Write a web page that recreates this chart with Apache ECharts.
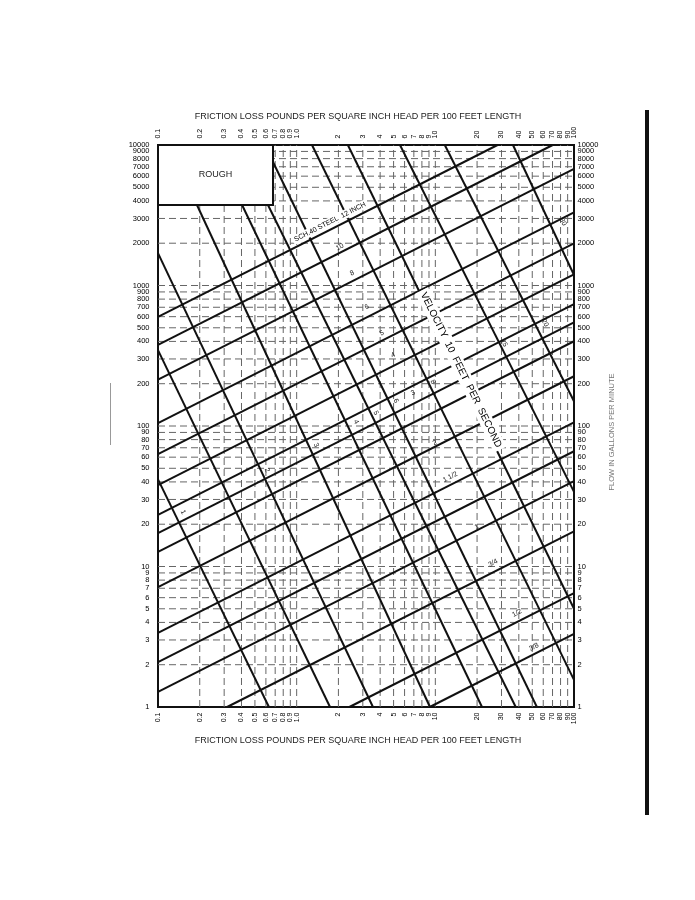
<!DOCTYPE html>
<html><head><meta charset="utf-8">
<script src="https://cdn.jsdelivr.net/npm/echarts@6/dist/echarts.min.js"></script>
<style>html,body{margin:0;padding:0;background:#fff}#c{width:695px;height:900px}</style>
</head><body><div id="c"></div>
<script>
// ---------- data ----------
const frictionTicks = [0.1,0.2,0.3,0.4,0.5,0.6,0.7,0.8,0.9,1,2,3,4,5,6,7,8,9,10,20,30,40,50,60,70,80,90,100];
const frictionTickLabels = ['0.1','0.2','0.3','0.4','0.5','0.6','0.7','0.8','0.9','1.0','2','3','4','5','6','7','8','9','10','20','30','40','50','60','70','80','90','100'];
const flowTicks = [1,2,3,4,5,6,7,8,9,10,20,30,40,50,60,70,80,90,100,200,300,400,500,600,700,800,900,1000,2000,3000,4000,5000,6000,7000,8000,9000,10000];
const flowTickLabels = ['1','2','3','4','5','6','7','8','9','10','20','30','40','50','60','70','80','90','100','200','300','400','500','600','700','800','900','1000','2000','3000','4000','5000','6000','7000','8000','9000','10000'];

// pipe diameter lines (inches): start / end points [friction psi per 100 ft, flow gpm]
const pipeSizes = ['12','10','8','6','5','4','3 1/2','3','2 1/2','2','1 1/2','1 1/4','1','3/4','1/2','3/8'];
const pipeFrom = [[0.1,597],[0.1,378],[0.1,214],[0.1,105],[0.1,63.1],[0.1,38.0],[0.1,23.3],[0.1,17.3],[0.1,12.7],[0.1,7.14],[0.1,3.37],[0.1,2.09],[0.1,1.28],[0.315,1],[2.40,1],[9.12,1]];
const pipeTo = [[28.1,10000],[70.2,10000],[100,6761],[100,3319],[100,1995],[100,1202],[100,736],[100,547],[100,401],[100,226],[100,106],[100,66.1],[100,40.5],[100,17.8],[100,6.46],[100,3.31]];

// velocity lines (feet per second)
const velocities = [1,1.5,2,3,4,5,6,8,10,15,20,30];
const velFrom = [[0.1,41.7],[0.1,347],[0.1,1700],[0.191,3740],[0.404,3740],[0.621,3740],[0.675,7570],[1.29,10000],[2.34,10000],[5.56,10000],[11.7,10000],[36.3,10000]];
const velTo = [[0.631,1],[1.74,1],[3.55,1],[9.15,1],[21.7,1],[38,1],[54,1],[100,1.56],[100,5.0],[100,34],[100,150],[100,1188]];

// text annotations
const pipeLabelText = ['10','8','6','5','4','3','2','1 1/2','1','3/4','1/2','3/8'];
const pipeLabelAt = [[2.05,1879],[2.51,1227],[3.21,703],[4.12,459],[4.95,320],[6.90,172],[9.94,75.7],[12.8,43.4],[19.95,19.1],[26.1,10.6],[38.8,4.67],[51.4,2.67]];
const velLabelText = ['1','2','3','4','5','6','8','15','20','30'];
const velLabelAt = [[0.1514,24.4],[0.611,48.6],[1.378,73.2],[2.68,107],[3.73,124],[5.2,151],[9.6,206],[31.3,390],[61.8,541],[83.4,2831]];
const steelLabel = ['SCH.40 STEEL  12 INCH'];
const steelLabelAt = [[1.74,2831]];
const velocityTitle = ['VELOCITY  10  FEET  PER  SECOND'];
const velocityTitleAt = [[15.3,250.6]];
const roughBox = [[0.1,3740,0.675,10000,'ROUGH']];
const axisTitle = 'FRICTION LOSS POUNDS PER SQUARE INCH HEAD PER 100 FEET LENGTH';
const sideTitle = 'FLOW IN GALLONS PER MINUTE';

// ---------- chart ----------
const FONT = 'Liberation Sans';
const chart = echarts.init(document.getElementById('c'), null, {renderer:'canvas'});
const series = [];

// dashed grid
frictionTicks.slice(1, -1).forEach(v => series.push({
  type:'line', z:1, silent:true, symbol:'none', animation:false,
  lineStyle:{color:'#666', width:1, type:[7,4]},
  data:[[v,1],[v,10000]]
}));
flowTicks.slice(1, -1).forEach(v => series.push({
  type:'line', z:1, silent:true, symbol:'none', animation:false,
  lineStyle:{color:'#666', width:1, type:[7,4]},
  data:[[0.1,v],[100,v]]
}));

// ROUGH box
series.push({
  type:'custom', z:2, silent:true, animation:false,
  encode:{x:[0,2], y:[1,3]},
  data: roughBox,
  renderItem:(params, api) => {
    const p1 = api.coord([api.value(0), api.value(1)]);
    const p2 = api.coord([api.value(2), api.value(3)]);
    return {type:'group', children:[
      {type:'rect', shape:{x:p1[0], y:p2[1], width:p2[0]-p1[0], height:p1[1]-p2[1]},
       style:{fill:'#fff', stroke:'#111', lineWidth:2}},
      {type:'text', x:(p1[0]+p2[0])/2, y:(p1[1]+p2[1])/2,
       style:{text:api.value(4), fill:'#222', font:'9px "'+FONT+'"', align:'center', verticalAlign:'middle'}}
    ]};
  }
});

// pipe lines
pipeSizes.forEach((s, i) => series.push({
  type:'line', name:'pipe '+s, z:3, silent:true, symbol:'none', animation:false,
  lineStyle:{color:'#111', width:2},
  data:[pipeFrom[i], pipeTo[i]]
}));
// velocity lines
velocities.forEach((v, i) => series.push({
  type:'line', name:'velocity '+v, z:3, silent:true, symbol:'none', animation:false,
  lineStyle:{color:'#111', width:2},
  data:[velFrom[i], velTo[i]]
}));

function textSeries(points, texts, label, z) {
  return {
    type:'scatter', z: z || 6, silent:true, animation:false, symbolSize:1,
    itemStyle:{color:'rgba(0,0,0,0)'},
    data: points.map((p, i) => [p[0], p[1], texts[i]]),
    label: Object.assign({show:true, formatter:p => p.data[2], color:'#000',
      textBorderWidth:0, textBorderColor:'transparent', opacity:1,
      fontFamily:FONT, fontSize:7}, label)
  };
}

// axis tick labels
series.push(textSeries(frictionTicks.map(v => [v, 1]), frictionTickLabels,
  {position:'bottom', distance:5, rotate:90, align:'right', verticalAlign:'middle'}));
series.push(textSeries(frictionTicks.map(v => [v, 10000]), frictionTickLabels,
  {position:'top', distance:6, rotate:90, align:'left', verticalAlign:'middle'}));
series.push(textSeries(flowTicks.map(v => [0.1, v]), flowTickLabels,
  {position:'left', distance:8, align:'right', verticalAlign:'middle', fontSize:7.5}));
series.push(textSeries(flowTicks.map(v => [100, v]), flowTickLabels,
  {position:'right', distance:3, align:'left', verticalAlign:'middle', fontSize:7.5}));

// in-chart annotations
series.push(textSeries(pipeLabelAt, pipeLabelText,
  {position:'inside', rotate:27, align:'center', verticalAlign:'middle', fontSize:7, color:'#222'}));
series.push(textSeries(velLabelAt, velLabelText,
  {position:'inside', rotate:-63.7, align:'center', verticalAlign:'middle', fontSize:7, color:'#222'}));
series.push(textSeries(steelLabelAt, steelLabel,
  {position:'inside', rotate:27, align:'center', verticalAlign:'middle', fontSize:7,
   backgroundColor:'#fff', padding:[1,2]}));
series.push(textSeries(velocityTitleAt, velocityTitle,
  {position:'inside', rotate:-63.7, align:'center', verticalAlign:'middle', fontSize:10,
   backgroundColor:'#fff', padding:[2,3]}));

chart.setOption({
  animation:false,
  backgroundColor:'#fff',
  grid:{left:158, top:145, width:416, height:562, show:true, borderColor:'#111', borderWidth:2, backgroundColor:'transparent'},
  xAxis:{type:'log', logBase:10, min:0.1, max:100,
    axisLine:{show:false}, axisTick:{show:false}, axisLabel:{show:false}, splitLine:{show:false}},
  yAxis:{type:'log', logBase:10, min:1, max:10000,
    axisLine:{show:false}, axisTick:{show:false}, axisLabel:{show:false}, splitLine:{show:false}},
  graphic:[
    {type:'text', x:358, y:117, style:{text:axisTitle, fill:'#222', font:'9px "'+FONT+'"', align:'center', verticalAlign:'middle'}},
    {type:'text', x:358, y:741, style:{text:axisTitle, fill:'#222', font:'9px "'+FONT+'"', align:'center', verticalAlign:'middle'}},
    {type:'text', x:612, y:432, rotation:Math.PI/2, style:{text:sideTitle, fill:'#777', font:'7.5px "'+FONT+'"', align:'center', verticalAlign:'middle'}},
    {type:'rect', shape:{x:645, y:110, width:4, height:705}, style:{fill:'#111'}},
    {type:'rect', shape:{x:110, y:383, width:1, height:62}, style:{fill:'#999'}}
  ],
  series
});
</script>
</body></html>
